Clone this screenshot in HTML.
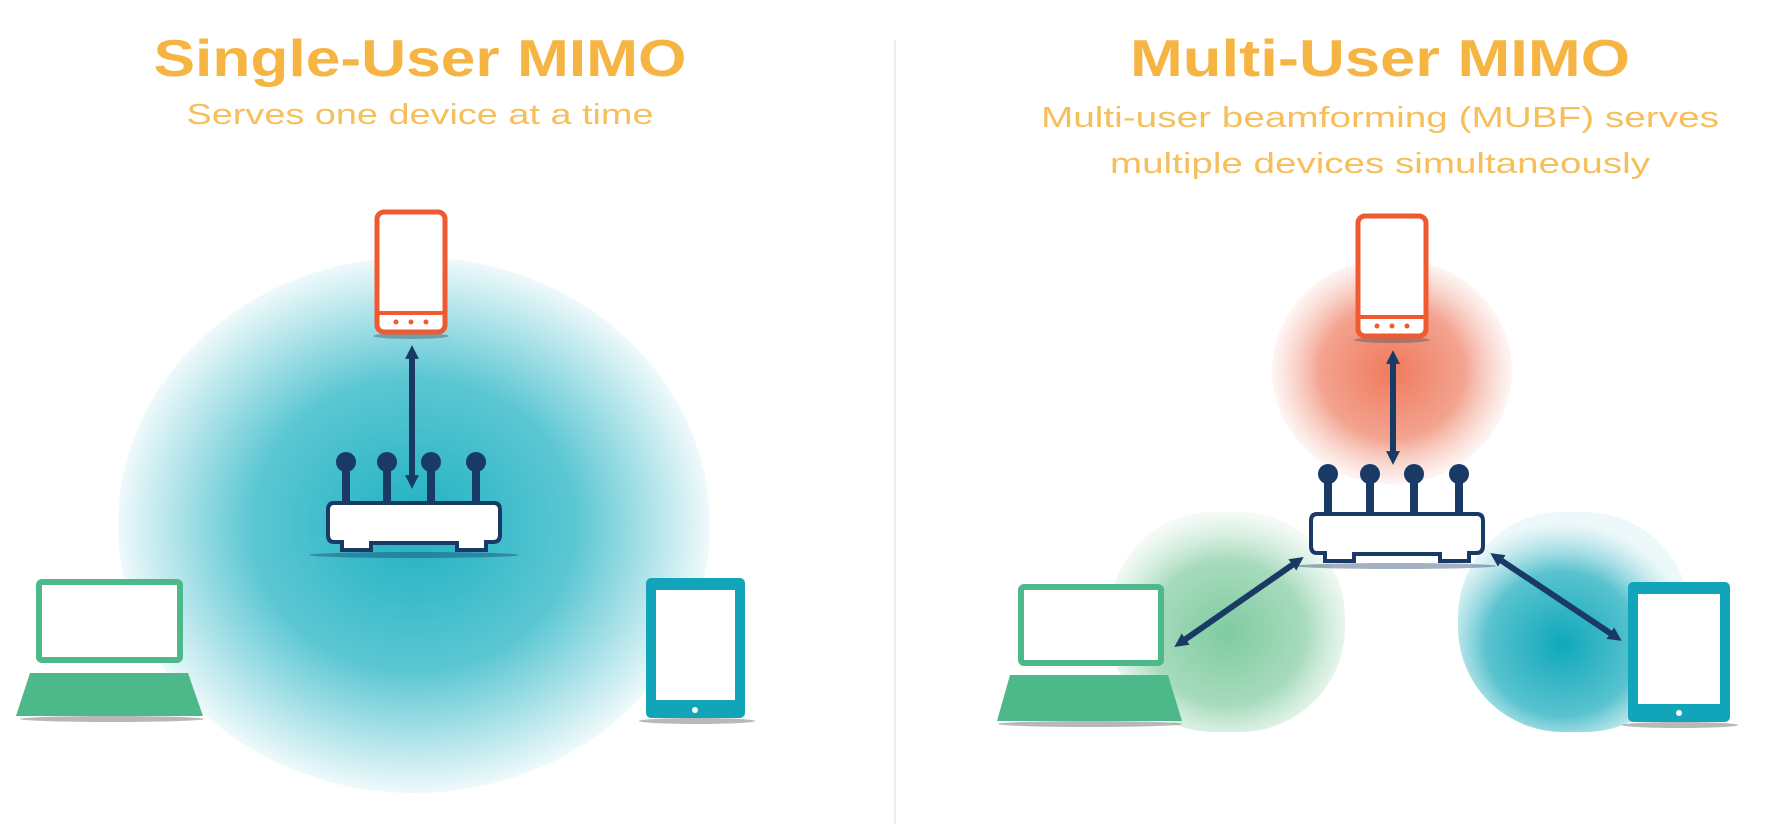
<!DOCTYPE html>
<html><head><meta charset="utf-8"><style>html,body{margin:0;padding:0;background:#fff}svg{display:block}</style></head>
<body>
<svg width="1765" height="824" viewBox="0 0 1765 824" xmlns="http://www.w3.org/2000/svg" font-family="Liberation Sans, sans-serif">
<defs>
<radialGradient id="gBig" cx="0.5" cy="0.5" r="0.5">
<stop offset="0" stop-color="#1fb1c2"/><stop offset="0.55" stop-color="#5cc7d3"/><stop offset="1" stop-color="#5cc7d3" stop-opacity="0.1"/></radialGradient>
<radialGradient id="gRed" cx="0.5" cy="0.5" r="0.5">
<stop offset="0" stop-color="#f07a5c"/><stop offset="0.6" stop-color="#f3a390"/><stop offset="1" stop-color="#f6c0b2" stop-opacity="0.15"/></radialGradient>
<radialGradient id="gGreen" cx="0.5" cy="0.55" r="0.55">
<stop offset="0" stop-color="#7fcba0"/><stop offset="0.6" stop-color="#a7dbbd"/><stop offset="1" stop-color="#c8e9d5" stop-opacity="0.2"/></radialGradient>
<radialGradient id="gTeal" cx="0.45" cy="0.6" r="0.55">
<stop offset="0" stop-color="#0fa8bb"/><stop offset="0.6" stop-color="#5ac3cf"/><stop offset="1" stop-color="#9fdbe2" stop-opacity="0.2"/></radialGradient>
<marker id="ah" viewBox="0 0 10 10" refX="5" refY="5" markerWidth="2.3" markerHeight="2.3" orient="auto-start-reverse"><path d="M0,0 L10,5 L0,10 z" fill="#1a3a66"/></marker>
</defs>

<text x="420" y="76" text-anchor="middle" font-size="52" font-weight="bold" fill="#f6b443" textLength="533" lengthAdjust="spacingAndGlyphs">Single-User MIMO</text>
<text x="420" y="124" text-anchor="middle" font-size="29" fill="#f6bf5c" textLength="467" lengthAdjust="spacingAndGlyphs">Serves one device at a time</text>
<text x="1380" y="76" text-anchor="middle" font-size="52" font-weight="bold" fill="#f6b443" textLength="500" lengthAdjust="spacingAndGlyphs">Multi-User MIMO</text>
<text x="1380" y="127" text-anchor="middle" font-size="29" fill="#f6bf5c" textLength="678" lengthAdjust="spacingAndGlyphs">Multi-user beamforming (MUBF) serves</text>
<text x="1380" y="173" text-anchor="middle" font-size="29" fill="#f6bf5c" textLength="540" lengthAdjust="spacingAndGlyphs">multiple devices simultaneously</text>

<line x1="895" y1="40" x2="895" y2="824" stroke="#eeeeee" stroke-width="2"/>

<ellipse cx="414" cy="525" rx="296" ry="268" fill="url(#gBig)"/>

<ellipse cx="411" cy="336" rx="38" ry="3" fill="#3a4a5a" opacity="0.4"/>
<rect x="377" y="212" width="68" height="120" rx="7" fill="#fff" stroke="#ef5a30" stroke-width="5"/>
<line x1="377" y1="313" x2="445" y2="313" stroke="#ef5a30" stroke-width="4"/>
<circle cx="396" cy="322" r="2.5" fill="#ef5a30"/><circle cx="411" cy="322" r="2.5" fill="#ef5a30"/><circle cx="426" cy="322" r="2.5" fill="#ef5a30"/>
<line x1="412" y1="352" x2="412" y2="482" stroke="#1a3a66" stroke-width="6" marker-start="url(#ah)" marker-end="url(#ah)"/>

<g fill="#1a3a66">
<rect x="342" y="462" width="8" height="44"/><circle cx="346" cy="462" r="10"/>
<rect x="383" y="462" width="8" height="44"/><circle cx="387" cy="462" r="10"/>
<rect x="427" y="462" width="8" height="44"/><circle cx="431" cy="462" r="10"/>
<rect x="472" y="462" width="8" height="44"/><circle cx="476" cy="462" r="10"/>
</g>
<ellipse cx="414" cy="555" rx="105" ry="3" fill="#1a3a66" opacity="0.4"/>
<path d="M334,503 H494 Q500,503 500,510 V535 Q500,542 493,542 H486 V550 H457 V543 H371 V550 H342 V542 H334 Q328,542 328,535 V510 Q328,503 334,503 Z" fill="#fff" stroke="#1a3a66" stroke-width="4"/>

<ellipse cx="112" cy="719" rx="92" ry="3" fill="#333" opacity="0.35"/>
<rect x="39" y="582" width="141" height="78" rx="3" fill="#fff" stroke="#4db88a" stroke-width="6"/>
<path d="M30,673 H188 L203,716 H16 Z" fill="#4db88a"/>

<ellipse cx="697" cy="721" rx="58" ry="3" fill="#333" opacity="0.35"/>
<rect x="646" y="578" width="99" height="140" rx="5" fill="#12a5b9"/>
<rect x="656" y="590" width="79" height="110" fill="#fff"/>
<circle cx="695" cy="710" r="3" fill="#fff"/>

<rect x="1109" y="512" width="236" height="220" rx="105" fill="url(#gGreen)"/>
<rect x="1458" y="512" width="232" height="220" rx="105" fill="url(#gTeal)"/>
<ellipse cx="1392" cy="371" rx="120" ry="113" fill="url(#gRed)"/>

<ellipse cx="1392" cy="340" rx="38" ry="3" fill="#3a4a5a" opacity="0.4"/>
<rect x="1358" y="216" width="68" height="120" rx="7" fill="#fff" stroke="#ef5a30" stroke-width="5"/>
<line x1="1358" y1="317" x2="1426" y2="317" stroke="#ef5a30" stroke-width="4"/>
<circle cx="1377" cy="326" r="2.5" fill="#ef5a30"/><circle cx="1392" cy="326" r="2.5" fill="#ef5a30"/><circle cx="1407" cy="326" r="2.5" fill="#ef5a30"/>
<line x1="1393" y1="357" x2="1393" y2="458" stroke="#1a3a66" stroke-width="6" marker-start="url(#ah)" marker-end="url(#ah)"/>

<g fill="#1a3a66">
<rect x="1324" y="474" width="8" height="42"/><circle cx="1328" cy="474" r="10"/>
<rect x="1366" y="474" width="8" height="42"/><circle cx="1370" cy="474" r="10"/>
<rect x="1410" y="474" width="8" height="42"/><circle cx="1414" cy="474" r="10"/>
<rect x="1455" y="474" width="8" height="42"/><circle cx="1459" cy="474" r="10"/>
</g>
<ellipse cx="1396" cy="566" rx="100" ry="3" fill="#1a3a66" opacity="0.4"/>
<path d="M1317,514 H1477 Q1483,514 1483,521 V546 Q1483,553 1476,553 H1469 V561 H1440 V554 H1354 V561 H1325 V553 H1317 Q1311,553 1311,546 V521 Q1311,514 1317,514 Z" fill="#fff" stroke="#1a3a66" stroke-width="4"/>

<line x1="1180" y1="643" x2="1298" y2="561" stroke="#1a3a66" stroke-width="6" marker-start="url(#ah)" marker-end="url(#ah)"/>
<line x1="1616" y1="637" x2="1496" y2="557" stroke="#1a3a66" stroke-width="6" marker-start="url(#ah)" marker-end="url(#ah)"/>

<ellipse cx="1090" cy="724" rx="92" ry="3" fill="#333" opacity="0.35"/>
<rect x="1021" y="587" width="140" height="76" rx="3" fill="#fff" stroke="#4db88a" stroke-width="6"/>
<path d="M1010,675 H1168 L1182,721 H997 Z" fill="#4db88a"/>

<ellipse cx="1680" cy="725" rx="58" ry="3" fill="#333" opacity="0.35"/>
<rect x="1628" y="582" width="102" height="140" rx="5" fill="#12a5b9"/>
<rect x="1638" y="594" width="82" height="110" fill="#fff"/>
<circle cx="1679" cy="713" r="3" fill="#fff"/>
</svg>
</body></html>
